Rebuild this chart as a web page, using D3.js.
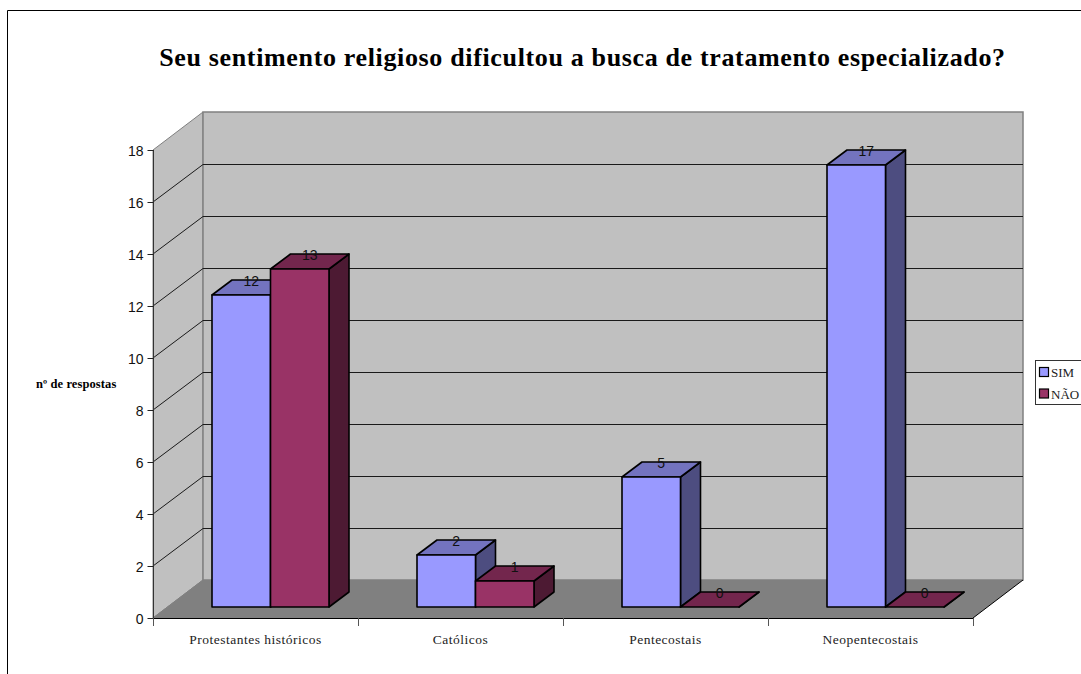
<!DOCTYPE html>
<html><head><meta charset="utf-8">
<script src="https://cdn.jsdelivr.net/npm/d3@7"></script>
<style>html,body{margin:0;padding:0;background:#fff;overflow:hidden}svg{display:block}</style>
</head><body><svg id="c" width="1081" height="674"></svg>
<script>
const titleText = "Seu sentimento religioso dificultou a busca de tratamento especializado?";
const yTitle = "nº de respostas";
const categories = ["Protestantes históricos","Católicos","Pentecostais","Neopentecostais"];
const seriesNames = ["SIM","NÃO"];
const simValues = [12,2,5,17];
const naoValues = [13,1,0,0];
const yTicks = [0,2,4,6,8,10,12,14,16,18];
const frontColors = ["#9999FF","#993366"];
const topColors = ["#7373BF","#73264D"];
const sideColors = ["#4D4D80","#4D1A33"];

const svg = d3.select("#c");
const SERIF = "'Liberation Serif',serif", SANS = "'Liberation Sans',Arial,sans-serif";
const x = d3.scaleBand().domain(categories).range([153,973]);
const inner = d3.scaleBand().domain(seriesNames).range([59,176]);
const y = d3.scaleLinear().domain([0,18]).range([618,150]);
const wall = {dx:50, dy:-38}, bar = {dx:20, dy:-15}, baseLift = 11;
const poly = (pts)=>pts.map(p=>p.join(",")).join(" ");

// frame
svg.append("path").attr("d","M7.5,674V10.5H1081").attr("fill","none").attr("stroke","#000").attr("stroke-width",1);

// title
svg.append("text").attr("x",582.5).attr("y",66).attr("text-anchor","middle")
  .attr("font-family",SERIF).attr("font-weight","bold").attr("font-size",26).attr("letter-spacing",0.65).attr("fill","#000").text(titleText);

const x0 = x.range()[0], x1 = x.range()[1], y0 = y(0), yT = y(18);
// walls
svg.append("polygon").attr("points",poly([[x0,y0],[x0,yT],[x0+wall.dx,yT+wall.dy],[x0+wall.dx,y0+wall.dy]]))
  .attr("fill","#C0C0C0").attr("stroke","#808080").attr("stroke-width",1);
svg.append("rect").attr("x",x0+wall.dx).attr("y",yT+wall.dy).attr("width",x1-x0).attr("height",y0-yT)
  .attr("fill","#C0C0C0").attr("stroke","#808080").attr("stroke-width",1.5);
// floor
svg.append("polygon").attr("points",poly([[x0,y0],[x1,y0],[x1+wall.dx,y0+wall.dy],[x0+wall.dx,y0+wall.dy]])).attr("fill","#808080");
svg.append("line").attr("x1",x1).attr("y1",y0).attr("x2",x1+wall.dx).attr("y2",y0+wall.dy).attr("stroke","#000");
svg.append("line").attr("x1",x0).attr("y1",y0).attr("x2",x0+wall.dx).attr("y2",y0+wall.dy).attr("stroke","#808080");

// gridlines
const grid = svg.append("g").attr("fill","none").attr("stroke","#1a1a1a").attr("stroke-width",1);
yTicks.filter(t=>t>0 && t<18).forEach(t=>{
  grid.append("polyline").attr("points",poly([[x0,y(t)],[x0+wall.dx,Math.round(y(t)+wall.dy)+.5],[x1+wall.dx,Math.round(y(t)+wall.dy)+.5]]));
});

// axes
const yAxis = svg.append("g").attr("transform",`translate(${x0+.5},0)`)
  .call(d3.axisLeft(y).tickValues(yTicks).tickSize(6).tickPadding(4));
yAxis.select(".domain").attr("stroke","#333").attr("d",`M0,${yT}V${y0}`);
yAxis.selectAll(".tick line").attr("stroke","#222");
yAxis.selectAll("text").attr("font-family",SANS).attr("font-size",14).attr("fill","#111").attr("y",1);
const xAxis = svg.append("g").attr("transform",`translate(0,${y0+.5})`)
  .call(d3.axisBottom(x).tickSize(0).tickPadding(16));
xAxis.select(".domain").attr("stroke","#000").attr("d",`M${x0},0H${x1}`);
xAxis.selectAll("text").attr("font-family",SERIF).attr("font-size",13.5).attr("letter-spacing",0.5).attr("fill","#222");
const edges = [...categories.map(c=>x(c)), x1];
svg.append("g").selectAll("line").data(edges).join("line")
  .attr("x1",d=>Math.round(d)+.5).attr("x2",d=>Math.round(d)+.5).attr("y1",y0).attr("y2",y0+8).attr("stroke","#555");

// bars
const rows = categories.flatMap((c,i)=>[
  {c,s:0,v:simValues[i]},{c,s:1,v:naoValues[i]}
]);
const baseY = y0-baseLift;
const g = svg.append("g").attr("stroke","#000").attr("stroke-width",1.6).attr("stroke-linejoin","round");
const labels = [];
rows.forEach(r=>{
  const l = x(r.c)+inner(seriesNames[r.s]), w = inner.bandwidth(), h = y0-y(r.v), t = baseY-h, rr = l+w;
  g.append("polygon").attr("points",poly([[rr,t],[rr+bar.dx,t+bar.dy],[rr+bar.dx,baseY+bar.dy],[rr,baseY]])).attr("fill",sideColors[r.s]);
  g.append("polygon").attr("points",poly([[l,t],[l+bar.dx,t+bar.dy],[rr+bar.dx,t+bar.dy],[rr,t]])).attr("fill",topColors[r.s]);
  g.append("rect").attr("x",l).attr("y",t).attr("width",w).attr("height",h).attr("fill",frontColors[r.s]);
  labels.push({x:l+w/2+10,y:t-9,v:r.v});
});
svg.append("g").selectAll("text").data(labels).join("text")
  .attr("x",d=>d.x).attr("y",d=>d.y).attr("text-anchor","middle")
  .attr("font-family",SANS).attr("font-size",14).attr("fill","#111").text(d=>d.v);

// y title
svg.append("text").attr("x",36).attr("y",388).attr("font-family",SERIF).attr("font-weight","bold")
  .attr("font-size",12.5).attr("letter-spacing",0.1).attr("fill","#000").text(yTitle);

// legend
const lg = svg.append("g");
lg.append("rect").attr("x",1035.5).attr("y",360.5).attr("width",60).attr("height",44).attr("fill","#fff").attr("stroke","#333");
seriesNames.forEach((n,i)=>{
  lg.append("rect").attr("x",1039.5).attr("y",367.5+i*21.5).attr("width",9).attr("height",9)
    .attr("fill",frontColors[i]).attr("stroke","#000").attr("stroke-width",1.2);
  lg.append("text").attr("x",1051).attr("y",377+i*21.5).attr("font-family",SERIF).attr("font-size",13).attr("fill","#222").text(n);
});
</script></body></html>
